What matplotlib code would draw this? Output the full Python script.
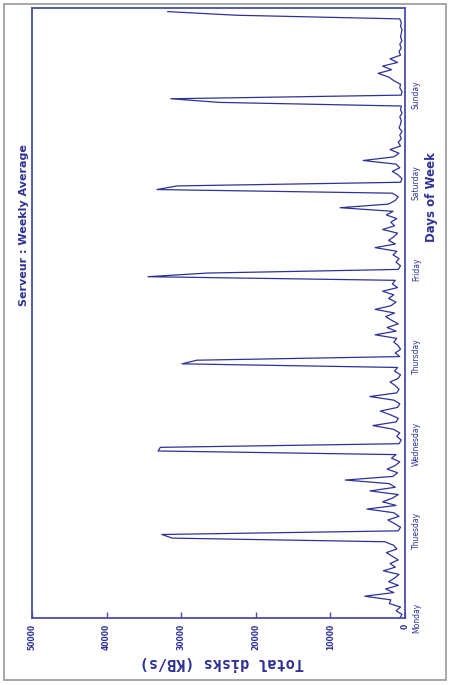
import numpy as np
import matplotlib
matplotlib.use("Agg")
import matplotlib.pyplot as plt
from matplotlib.patches import Rectangle

# ---- data (hourly average total disk throughput, KB/s) ----
days = ["Monday", "Thuesday", "Wednesday", "Thursday", "Friday", "Saturday", "Sunday"]
monday = [700, 400, 1200, 600, 2100, 1900, 5400, 1500, 2600, 900, 2200, 1400,
          800, 2900, 1300, 2000, 900, 1700, 2500, 1100, 1500, 2700, 31200, 32600]
tuesday = [900, 600, 1400, 2300, 800, 1500, 5100, 1200, 3000, 1700, 900, 4700,
           1300, 2100, 8000, 1600, 1000, 2400, 1300, 700, 1800, 1200, 33100, 32800]
wednesday = [800, 500, 1100, 700, 1600, 4300, 1200, 900, 2000, 3300, 1000, 700,
             1500, 4700, 1100, 800, 1300, 2000, 900, 600, 1400, 1000, 29900, 27900]
thursday = [700, 1300, 600, 900, 1500, 1100, 4000, 1200, 2400, 900, 1800, 2600,
            1400, 4000, 1900, 1200, 2200, 1500, 3000, 1000, 1700, 1300, 34450, 26500]
friday = [900, 600, 1200, 800, 1600, 1100, 4000, 1300, 2200, 1500, 1000, 3000,
          1400, 1900, 1100, 2500, 1600, 8700, 2200, 1300, 900, 1700, 33250, 30560]
saturday = [600, 400, 900, 1700, 700, 1200, 5600, 1500, 800, 2000, 600, 900,
            500, 700, 400, 800, 600, 500, 700, 400, 600, 500, 24800, 31400]
sunday = [500, 400, 700, 600, 1500, 2200, 3600, 1800, 3000, 1000, 2000, 600,
          800, 500, 700, 400, 600, 500, 400, 600, 500, 700, 22500, 31800]
value_ticks = [0, 10000, 20000, 30000, 40000, 50000]

week = [monday, tuesday, wednesday, thursday, friday, saturday, sunday]
values = np.concatenate([np.array(d, dtype=float) for d in week])
hours_per_day = len(monday)
t = np.arange(len(values)) / hours_per_day   # in days

# ---- styling ----
BLUE = "#2e3296"
FRAME = "#4a4eaa"
W, H = 449, 685

fig = plt.figure(figsize=(W / 100, H / 100), dpi=100)
fig.patch.set_facecolor("white")

# outer grey border
fig.patches.append(Rectangle((4 / W, 5 / H), 442 / W, 676 / H, transform=fig.transFigure,
                             fill=False, edgecolor="#a0a0a0", lw=1.3))

ax = fig.add_axes([32 / W, 1 - 618 / H, 373 / W, 610 / H])
ax.plot(values, t, color=BLUE, lw=0.9)
ax.set_xlim(50000, 0)
ax.set_ylim(0, 7)

for s in ax.spines.values():
    s.set_color(FRAME)
    s.set_linewidth(1.3)

ax.set_xticks(value_ticks)
ax.set_xticklabels([str(v) for v in value_ticks], rotation=90, fontsize=5.5,
                   color=BLUE, fontweight="bold")
ax.tick_params(axis="x", direction="in", length=4, width=1, color=FRAME, pad=4)

ax.yaxis.tick_right()
ax.set_yticks(range(len(days)))
ax.set_yticklabels(days, rotation=90, fontsize=5.5, color=BLUE, va="center")
ax.tick_params(axis="y", length=0, pad=5)

fig.text(24 / W, 1 - 225 / H, "Serveur : Weekly Average", rotation=90,
         ha="center", va="center", fontsize=8, fontweight="bold", color=BLUE)
fig.text(432 / W, 1 - 197 / H, "Days of Week", rotation=90,
         ha="center", va="center", fontsize=8.5, fontweight="bold", color=BLUE)
fig.text(222 / W, 1 - 662 / H, "Total disks (KB/s)", rotation=180,
         ha="center", va="center", fontsize=11, fontweight="bold",
         family="DejaVu Sans Mono", color=BLUE)

fig.savefig("out.png", dpi=100, facecolor="white")
